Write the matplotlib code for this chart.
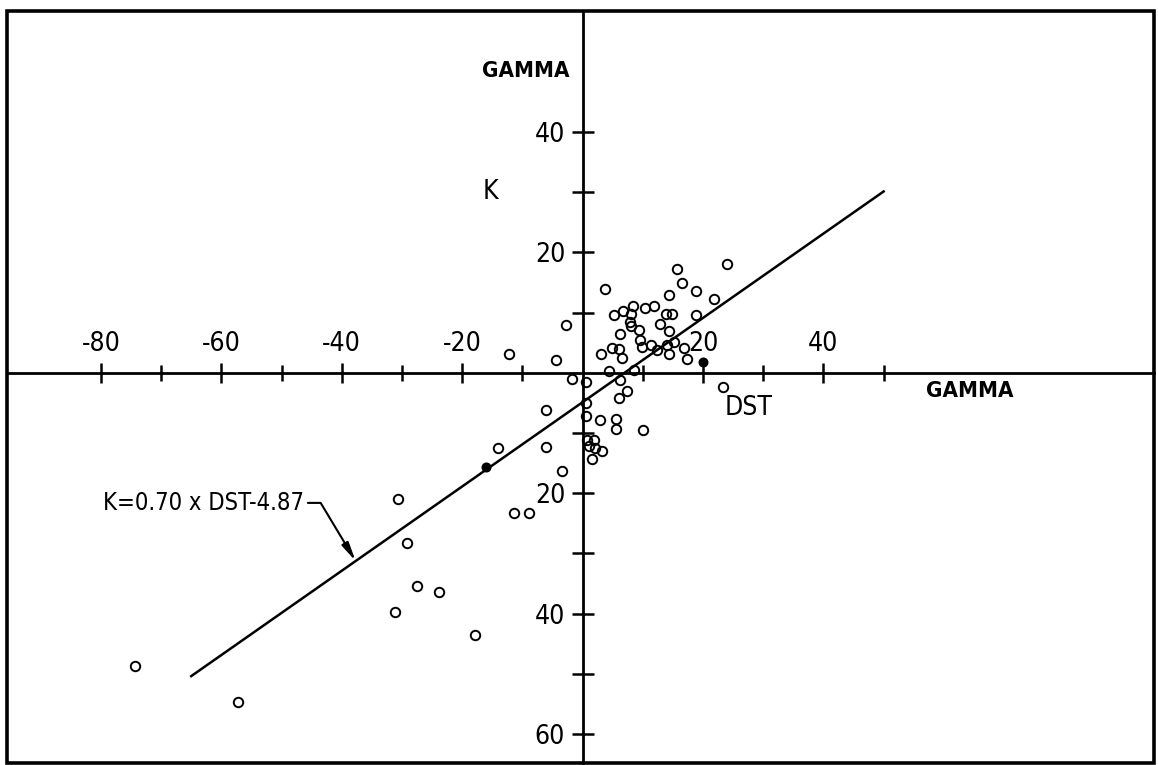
import numpy as np
import matplotlib.pyplot as plt
from matplotlib import font_manager

# narrow lettering if the system has it, otherwise Arial-like metrics
fonts = font_manager.fontManager.ttflist
names = {f.name for f in fonts}
stretch = 'normal'
if 'Liberation Sans Narrow' in names:
    family = 'Liberation Sans Narrow'
elif any(f.name == 'DejaVu Sans' and f.stretch == 'condensed' for f in fonts):
    family = 'DejaVu Sans'
    stretch = 'condensed'
else:
    family = 'Liberation Sans'
plt.rcParams['font.family'] = [family, 'DejaVu Sans']
plt.rcParams['font.stretch'] = stretch

# observations: DST (x) and K (y) in gammas
dst = [3.8, 15.7, 16.5, 24.0, 14.4, 18.8, 21.8, 8.4, 10.4, 11.8,
       5.2, 6.7, 8.0, 7.8, 8.1, 9.4, 13.9, 14.9, 18.9, 12.9,
       14.3, 6.2, 9.5, 9.9, 11.3, 12.3, 14.0, 15.1, 14.3, 16.9,
       17.4, 4.8, 6.1, 6.6, 3.0, 4.4, 8.5, -2.7, -12.3, -4.4,
       -1.7, 0.5, 6.2, 7.4, 6.1, 0.6, -6.1, 0.5, 2.9, 5.5,
       5.5, 10.0, 0.7, 1.9, 1.1, 2.1, 3.3, 1.6, -6.1, -3.4,
       -14.1, 23.3, -74.3, -57.2, -30.7, -29.2, -27.5, -23.8, -31.1, -17.8,
       -11.4, -8.9]
k = [14.0, 17.2, 15.0, 18.0, 12.9, 13.6, 12.3, 11.1, 10.8, 11.1,
     9.6, 10.2, 9.7, 8.5, 7.7, 7.2, 9.7, 9.8, 9.6, 8.1,
     7.0, 6.5, 5.4, 4.3, 4.7, 3.8, 4.6, 5.1, 3.1, 4.1,
     2.3, 4.1, 4.0, 2.5, 3.1, 0.3, 0.4, 7.9, 3.2, 2.1,
     -1.1, -1.5, -1.2, -3.0, -4.2, -5.0, -6.2, -7.2, -7.9, -7.6,
     -9.3, -9.5, -11.2, -11.1, -12.2, -12.4, -12.9, -14.3, -12.3, -16.3,
     -12.5, -2.3, -48.7, -54.6, -20.9, -28.2, -35.4, -36.4, -39.7, -43.5,
     -23.3, -23.2]
dst_dark = [-16.0, 20.0]
k_dark = [-15.7, 1.8]

slope = 0.70
intercept = -4.87
fit_range = [-65.0, 50.0]

x_major = [-80, -60, -40, -20, 20, 40]
x_minor = [-70, -50, -30, -10, 10, 30, 50]
y_major = [-60, -40, -20, 20, 40]
y_minor = [-50, -30, -10, 10, 30]

fig = plt.figure(figsize=(11.58, 7.65), dpi=100)
ax = fig.add_axes([7 / 1158, 2 / 765, 1147 / 1158, 752 / 765])
ax.set_xlim(-95.6, 94.9)
ax.set_ylim(-64.8, 60.1)

# cross-shaped axes through the origin
ax.spines['top'].set_position(('data', 0))
ax.spines['left'].set_position(('data', 0))
ax.spines['bottom'].set_visible(False)
ax.spines['right'].set_visible(False)
for s in ('top', 'left'):
    ax.spines[s].set_linewidth(2.0)
ax.xaxis.set_ticks_position('top')
ax.yaxis.set_ticks_position('left')

# outer frame
ax.add_patch(plt.Rectangle((0, 0), 1, 1, transform=ax.transAxes, fill=False,
                           lw=2.6, color='black', clip_on=False))

ax.set_xticks(x_major)
ax.set_xticks(x_minor, minor=True)
ax.set_xticklabels([str(v) for v in x_major])
ax.set_yticks(y_major)
ax.set_yticks(y_minor, minor=True)
ax.set_yticklabels([str(abs(v)) for v in y_major])

ax.tick_params(axis='x', which='major', direction='inout', length=14, width=1.8,
               pad=4.5, labelsize=19)
ax.tick_params(axis='x', which='minor', direction='inout', length=11, width=1.8)
ax.tick_params(axis='y', which='both', direction='inout', length=16, width=1.8,
               pad=4.5, labelsize=19)

# regression line
xf = np.array(fit_range)
ax.plot(xf, slope * xf + intercept, color='black', lw=1.8, zorder=3)

ax.plot(dst, k, 'o', ms=6.8, mfc='none', mec='black', mew=1.4, zorder=4)
ax.plot(dst_dark, k_dark, 'o', ms=6.0, mfc='black', mec='black', mew=1.2, zorder=4)

# equation label with an elbow leader onto the fitted line
ax.annotate('K=0.70 x DST-4.87', xy=(-37.7, slope * -37.7 + intercept),
            xytext=(-79.7, -21.6), ha='left', va='center', fontsize=17,
            arrowprops=dict(arrowstyle='-|>,head_length=1.1,head_width=0.22',
                            connectionstyle='angle,angleA=0,angleB=121,rad=0',
                            relpos=(1, 0.5), shrinkA=1, shrinkB=0,
                            mutation_scale=10, lw=1.5, color='black'))

ax.text(-2.1, 50.1, 'GAMMA', ha='right', va='center', fontsize=16, fontweight='bold')
ax.text(57.0, -3.0, 'GAMMA', ha='left', va='center', fontsize=16, fontweight='bold')
ax.text(-15.3, 30.0, 'K', ha='center', va='center', fontsize=19)
ax.text(27.6, -5.9, 'DST', ha='center', va='center', fontsize=19)

fig.savefig('out.png', dpi=100)
